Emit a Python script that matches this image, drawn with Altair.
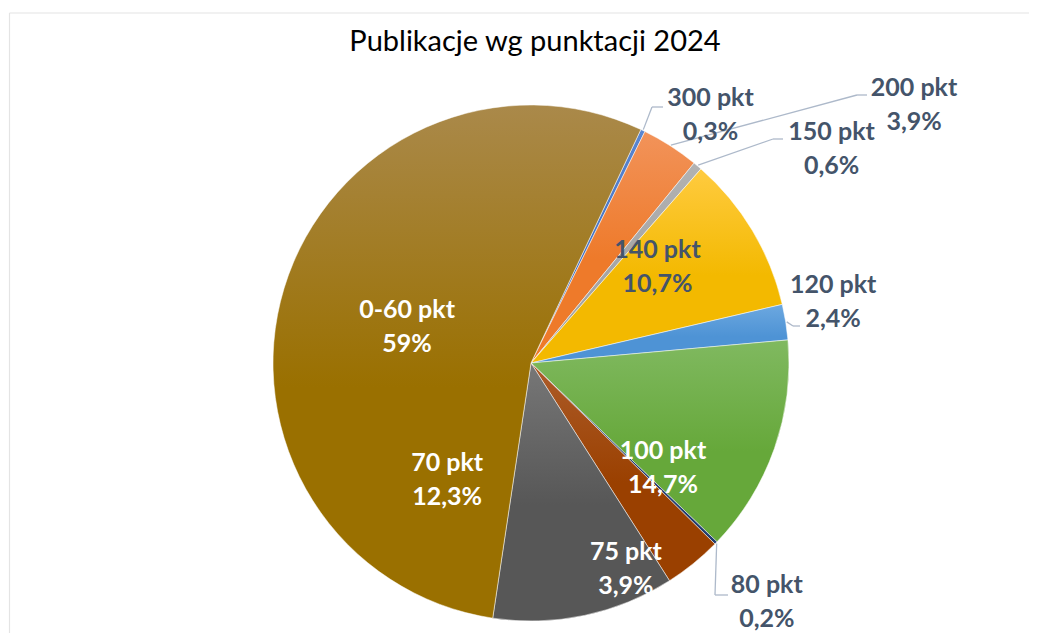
import math
import altair as alt
import pandas as pd

# ---------------- data ----------------
categories = ["300 pkt", "200 pkt", "150 pkt", "140 pkt", "120 pkt",
              "100 pkt", "80 pkt", "75 pkt", "70 pkt", "0-60 pkt"]
shares = [0.3, 3.9, 0.6, 10.7, 2.4, 14.7, 0.2, 3.9, 12.3, 59.0]
share_labels = ["0,3%", "3,9%", "0,6%", "10,7%", "2,4%",
                "14,7%", "0,2%", "3,9%", "12,3%", "59%"]
title_text = "Publikacje wg punktacji 2024"

# ---------------- styles ----------------
grad_top = ["#5A86D0", "#F2935A", "#B2B2B2", "#FFCB40", "#6CA8E0",
            "#80B960", "#2D518E", "#AD5C2A", "#777777", "#AA894A"]
grad_bottom = ["#4472C4", "#EE7A2A", "#A5A5A5", "#F3B900", "#4E93D5",
               "#66A83A", "#223E6E", "#9A4000", "#575757", "#9A7000"]
label_colors = ["#44546A", "#44546A", "#44546A", "#44546A", "#44546A",
                "#FFFFFF", "#44546A", "#FFFFFF", "#FFFFFF", "#FFFFFF"]
LH = 34  # label line height
# label placement: (radius along slice mid-angle, dx, dy of block centre)
label_place = {
    "300 pkt": (301, 49, 23.5),
    "200 pkt": (424, 154, 99),
    "150 pkt": (358, 69.5, 59),
    "140 pkt": (158, -9, -14.5),
    "120 pkt": (308, -2, -12),
    "100 pkt": (159, -18, 52),
    "80 pkt": (338, -6.5, 3.5),
    "75 pkt": (220, -43.5, 35),
    "70 pkt": (97, -104, 22),
    "0-60 pkt": (129, -0.5, 1.5),
}
# leader lines: elbow and end, relative to pie centre (px)
leader_place = {
    "300 pkt": (121, -256, 132, -256),
    "200 pkt": (326, -268, 336, -268),
    "150 pkt": (242, -224, 252, -224),
    "120 pkt": (262, -37, 269, -37),
    "80 pkt": (184, 232, 197, 232),
}

W, H = 996, 540
PAD = {"left": 25, "top": 85, "right": 0, "bottom": 0}
CX, CY = W / 2, H / 2
R = 258
START = math.radians(25.2)
TOTAL = sum(shares)
FONT = "Lato"

df = pd.DataFrame({
    "cat": categories,
    "value": shares,
    "pct": share_labels,
    "idx": list(range(len(categories))),
})
df["label"] = df["cat"] + "\n" + df["pct"]

lead_df = pd.DataFrame({
    "cat": list(leader_place.keys()),
    "ex": [v[0] for v in leader_place.values()],
    "ey": [v[1] for v in leader_place.values()],
    "fx": [v[2] for v in leader_place.values()],
    "fy": [v[3] for v in leader_place.values()],
})


def grad(top, bottom):
    return {"gradient": "linear", "x1": 0, "y1": 0, "x2": 0, "y2": 1,
            "stops": [{"offset": 0, "color": top},
                      {"offset": 0.55, "color": bottom},
                      {"offset": 1, "color": bottom}]}


fill_def = {
    "condition": [
        {"test": f"datum.cat === '{c}'", "value": grad(t, b)}
        for c, t, b in zip(categories, grad_top, grad_bottom)
    ],
    "value": "#999999",
}

base = alt.Chart(df).encode(
    theta=alt.Theta("value:Q", stack=True,
                    scale=alt.Scale(range=[START, START + 2 * math.pi])),
    order=alt.Order("idx:Q"),
    detail="cat:N",
)

arcs = base.mark_arc(outerRadius=R, stroke="#FFFFFF", strokeWidth=0.5).encode(
    fill=fill_def)

texts = []
for c, col in zip(categories, label_colors):
    r, dx, dy = label_place[c]
    texts.append(
        base.mark_text(radius=r, dx=dx, dy=dy - LH / 2, font=FONT,
                       fontWeight="bold", fontSize=25, lineHeight=LH,
                       lineBreak="\n", align="center", baseline="middle",
                       color=col).encode(
            text=alt.condition(f"datum.cat === '{c}'",
                               alt.Text("label:N"), alt.value(""))
        )
    )

lead_base = (
    alt.Chart(df)
    .transform_window(cum="sum(value)", sort=[alt.SortField("idx")],
                      frame=[None, 0])
    .transform_lookup(lookup="cat",
                      from_=alt.LookupData(lead_df, "cat", ["ex", "ey", "fx", "fy"]))
    .transform_filter("isValid(datum.ex)")
    .transform_calculate(
        ang=f"{START} + 2*PI*(datum.cum - datum.value/2)/{TOTAL}",
    )
    .transform_calculate(
        sx=f"{CX} + {R + 1}*sin(datum.ang)",
        sy=f"{CY} - {R + 1}*cos(datum.ang)",
        ex_px=f"{CX} + datum.ex",
        ey_px=f"{CY} + datum.ey",
        fx_px=f"{CX} + datum.fx",
        fy_px=f"{CY} + datum.fy",
    )
)
lead1 = lead_base.mark_rule(color="#ADB9CA", strokeWidth=1.3).encode(
    x=alt.X("sx:Q", scale=None, axis=None),
    y=alt.Y("sy:Q", scale=None, axis=None),
    x2="ex_px:Q", y2="ey_px:Q",
)
lead2 = lead_base.mark_rule(color="#ADB9CA", strokeWidth=1.3).encode(
    x=alt.X("ex_px:Q", scale=None, axis=None),
    y=alt.Y("ey_px:Q", scale=None, axis=None),
    x2="fx_px:Q", y2="fy_px:Q",
)

one = pd.DataFrame({"title": [title_text]})
frame_left = alt.Chart(one).mark_rule(color="#E4E4E4", strokeWidth=1.2).encode(
    x=alt.value(-23.5), y=alt.value(-80), y2=alt.value(H))
frame_top = alt.Chart(one).mark_rule(color="#E4E4E4", strokeWidth=1.2).encode(
    x=alt.value(-23.5), x2=alt.value(W), y=alt.value(-80))
title = alt.Chart(one).mark_text(font=FONT, fontSize=29, fontWeight="normal",
                                 color="#000000", align="center",
                                 baseline="alphabetic").encode(
    text="title:N", x=alt.value(CX + 4), y=alt.value(-42))

chart = alt.layer(frame_left, frame_top, title, arcs, lead1, lead2, *texts).properties(
    width=W,
    height=H,
    padding=PAD,
    autosize="none",
).configure_view(stroke=None)

chart.save("out.html", embed_options={"renderer": "svg", "actions": False})
